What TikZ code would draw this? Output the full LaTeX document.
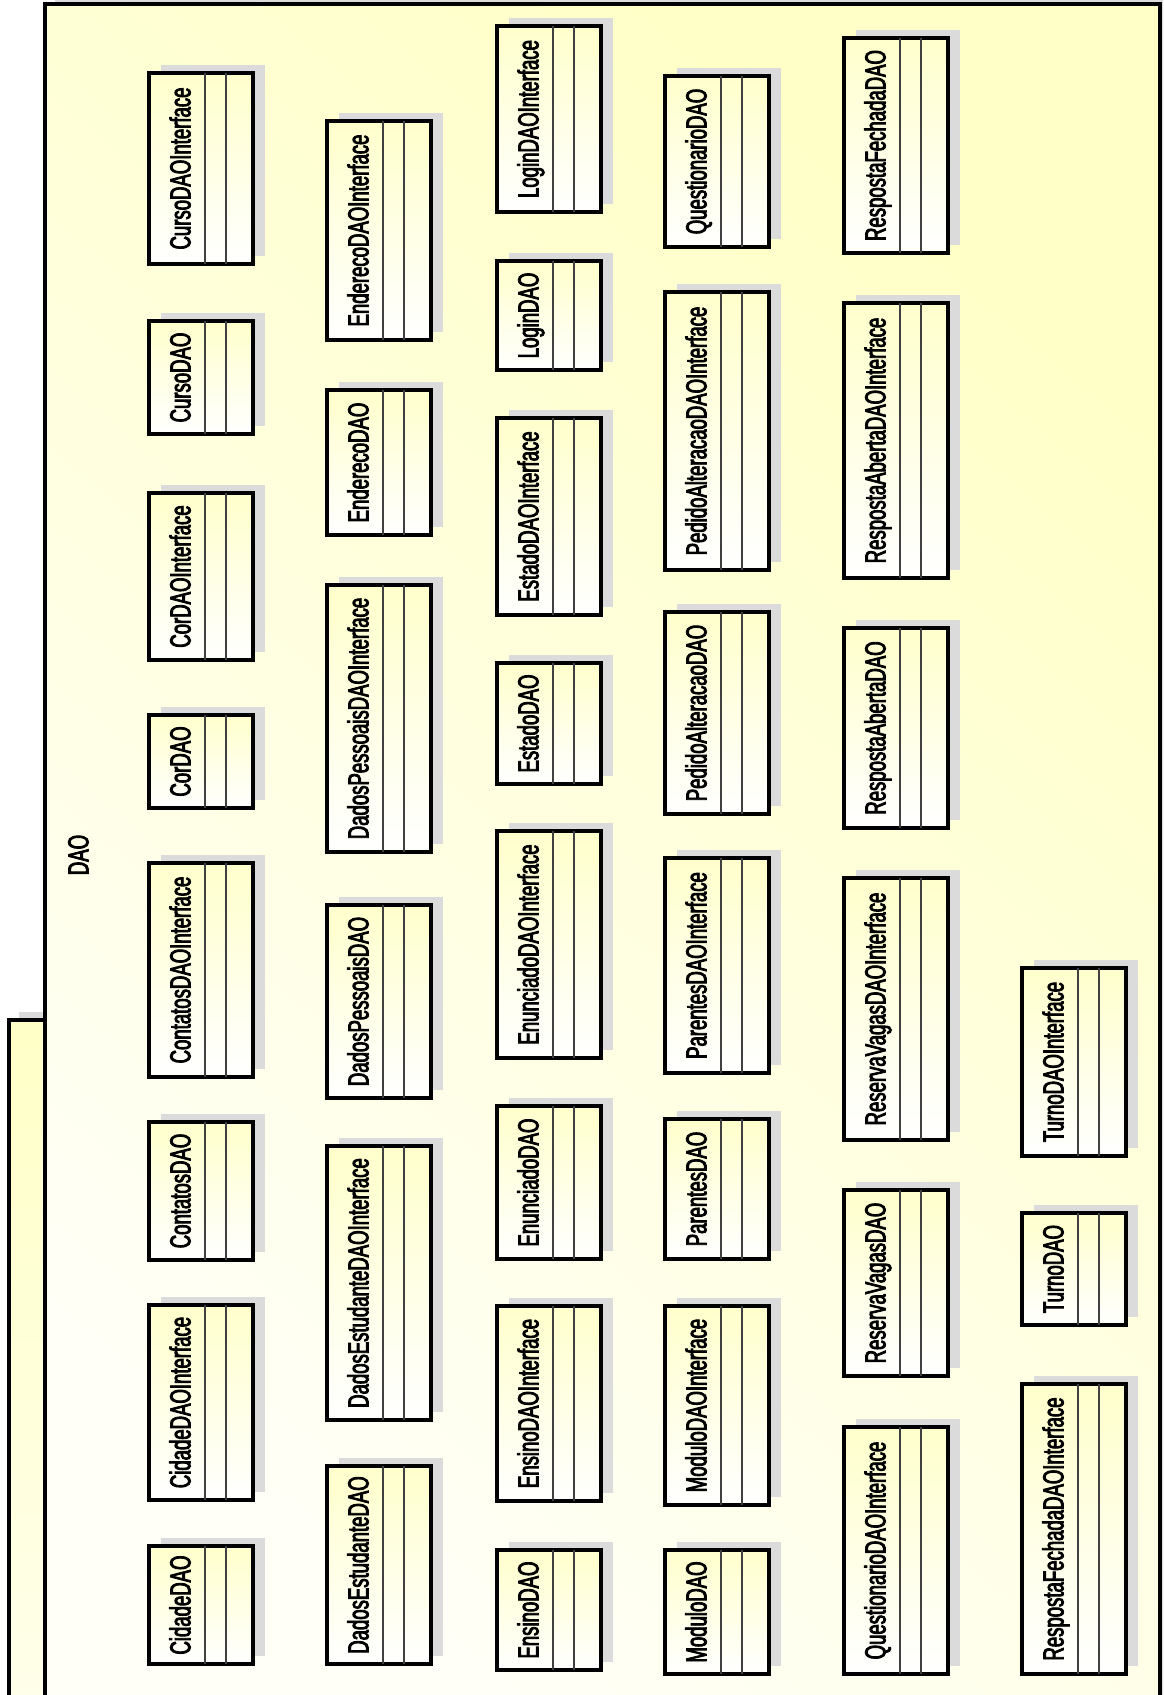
\documentclass[tikz,border=0pt]{standalone}
\usepackage{fontspec}
\newfontfamily\umlfont[FakeStretch=0.64,FakeBold=3]{Liberation Sans}
\usetikzlibrary{calc,shadows}

\begin{document}
\begin{tikzpicture}[
  x=0.5pt,y=-0.5pt,
  pkg/.style={draw,line width=2pt},
  cls/.style={draw,line width=2pt,minimum width=52pt,inner sep=0pt,outer sep=0pt,
              top color=yellow!20,bottom color=white,
              drop shadow={shadow xshift=6pt,shadow yshift=4pt,fill=black!14,opacity=1}},
  sep/.style={line width=1pt,black!75},
  clsname/.style={rotate=90,inner sep=0pt,text height=10.4pt,text depth=0pt,
                  font=\umlfont\fontsize{14.5}{16}\selectfont}
]

  \clip (0,0) rectangle (1163,1695);

  %% ===== PACKAGE DAO =====

  % tab (left side) with its shadow
  \fill[black!14] (19,1012) rectangle (55,1710);
  \draw[pkg,top color=yellow!22,bottom color=yellow!8] (9,1020) rectangle (45,1710);

  % body with its shadow
  \fill[black!14] (55,-2) rectangle (1172,1710);
  \draw[pkg,top color=yellow!22,bottom color=yellow!3,shading angle=-40]
    (45,1710) -- (45,4) -- (1160,4) -- (1160,1710) -- cycle;

  % package name
  \node[clsname] (pkgname) at (78,855) {DAO};

  %% ===== CLASSES (name / left / top / bottom) =====
  \foreach \n/\x/\t/\b in {
      % column 1
      CursoDAOInterface/147/71/266, CursoDAO/147/319/436,
      CorDAOInterface/147/491/662, CorDAO/147/713/810,
      ContatosDAOInterface/147/861/1079, ContatosDAO/147/1120/1262,
      CidadeDAOInterface/147/1303/1502, CidadeDAO/147/1544/1666,
      % column 2
      EnderecoDAOInterface/325/119/342, EnderecoDAO/325/388/537,
      DadosPessoaisDAOInterface/325/583/854, DadosPessoaisDAO/325/903/1100,
      DadosEstudanteDAOInterface/325/1144/1422, DadosEstudanteDAO/325/1464/1666,
      % column 3
      LoginDAOInterface/495/24/214, LoginDAO/495/259/372,
      EstadoDAOInterface/495/416/617, EstadoDAO/495/661/786,
      EnunciadoDAOInterface/495/829/1060, EnunciadoDAO/495/1104/1261,
      EnsinoDAOInterface/495/1304/1503, EnsinoDAO/495/1548/1672,
      % column 4
      QuestionarioDAO/663/74/249, PedidoAlteracaoDAOInterface/663/290/572,
      PedidoAlteracaoDAO/663/610/816, ParentesDAOInterface/663/856/1075,
      ParentesDAO/663/1117/1261, ModuloDAOInterface/663/1304/1507,
      ModuloDAO/663/1548/1676,
      % column 5
      RespostaFechadaDAO/842/36/255, RespostaAbertaDAOInterface/842/301/580,
      RespostaAbertaDAO/842/626/830, ReservaVagasDAOInterface/842/876/1142,
      ReservaVagasDAO/842/1188/1378, QuestionarioDAOInterface/842/1425/1676,
      % column 6
      TurnoDAOInterface/1020/966/1158, TurnoDAO/1020/1211/1327,
      RespostaFechadaDAOInterface/1020/1382/1676} {
    \pgfmathsetmacro\cy{(\t+\b)/2}
    \pgfmathsetmacro\h{(\b-\t-4)/2}
    \node[cls,minimum height=\h pt] (\n) at (\x+54,\cy) {};
    % compartments
    \draw[sep] ($(\n.north west)+(56,0)$) -- ($(\n.south west)+(56,0)$);
    \draw[sep] ($(\n.north west)+(77,0)$) -- ($(\n.south west)+(77,0)$);
    \node[clsname] (\n-name) at ($(\n.west)+(31,0)$) {\n};
  }

\end{tikzpicture}
\end{document}
